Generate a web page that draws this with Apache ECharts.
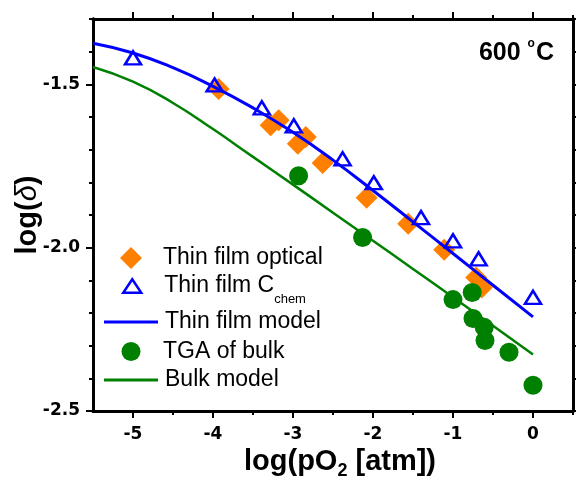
<!DOCTYPE html>
<html>
<head>
<meta charset="utf-8">
<script src="https://cdn.jsdelivr.net/npm/echarts@6/dist/echarts.min.js"></script>
<style>
  html, body { margin: 0; padding: 0; background: #fff; }
  #chart { width: 576px; height: 482px; }
</style>
</head>
<body>
<div id="chart"></div>
<script>
// tick positions
var xMajor = [-5, -4, -3, -2, -1, 0]
var xMinor = [-4.5, -3.5, -2.5, -1.5, -0.5, 0.5]
var yMajor = [-2.5, -2.0, -1.5]
var yMinor = [-2.4, -2.3, -2.2, -2.1, -1.9, -1.8, -1.7, -1.6, -1.4, -1.3]

// thin film optical (diamonds)
var opticalX = [-3.93, -3.28, -3.18, -2.94, -2.84, -2.63, -2.08, -1.56, -1.11, -0.71, -0.64]
var opticalY = [-1.514, -1.625, -1.610, -1.682, -1.661, -1.741, -1.847, -1.927, -2.006, -2.091, -2.122]

// thin film C_chem (triangles)
var chemX = [-5.0, -3.98, -3.39, -2.99, -2.38, -1.99, -1.40, -1.00, -0.68, 0.0]
var chemY = [-1.419, -1.502, -1.572, -1.627, -1.728, -1.801, -1.908, -1.979, -2.034, -2.152]

// TGA of bulk (circles)
var tgaX = [-2.93, -2.13, -1.00, -0.76, -0.75, -0.61, -0.60, -0.30, 0.0]
var tgaY = [-1.780, -1.969, -2.159, -2.137, -2.217, -2.244, -2.284, -2.320, -2.421]

// model curves
var modelX = [-5.5, -5, -4.5, -4, -3.5, -3, -2.5, -2, -1.5, -1, -0.5, 0]
var thinModelY = [-1.374, -1.404, -1.449, -1.506, -1.572, -1.647, -1.732, -1.825, -1.921, -2.018, -2.115, -2.212]
var bulkModelY = [-1.447, -1.492, -1.557, -1.637, -1.722, -1.807, -1.893, -1.979, -2.065, -2.152, -2.239, -2.327]

function pairs (xs, ys) {
  var out = []
  for (var i = 0; i < xs.length; i++) {
    out.push([xs[i], ys[i]])
  }
  return out
}

var labelFont = 'DejaVu Sans'
var textFont = 'Liberation Sans'

function makeAxis (pos, ticks, len, withLabel, extra) {
  var horiz = pos === 'bottom' || pos === 'top'
  var ax = {
    type: 'value',
    position: pos,
    min: horiz ? -5.5 : -2.5,
    max: horiz ? 0.5 : -1.3,
    splitLine: { show: false },
    axisLine: { show: true, onZero: false, lineStyle: { color: '#000', width: 2.8 } },
    axisTick: { show: true, length: len, customValues: ticks, lineStyle: { color: '#000', width: 2 } },
    axisLabel: {
      show: withLabel,
      customValues: ticks,
      color: '#000',
      fontFamily: labelFont,
      fontWeight: 'bold',
      fontSize: 17,
      margin: horiz ? 15 : 13,
      formatter: function (v) {
        return horiz ? String(Math.round(v)) : Number(v).toFixed(1)
      }
    }
  }
  if (extra) {
    for (var k in extra) ax[k] = extra[k]
  }
  return ax
}

var chart = echarts.init(document.getElementById('chart'))

// one legend per entry so each row sits where the original has it
function legendAt (name, left, top, w, h, padLeft, more) {
  var lg = {
    data: [name],
    left: left,
    top: top,
    padding: 0,
    itemWidth: w,
    itemHeight: h,
    selectedMode: false,
    textStyle: { fontFamily: textFont, fontSize: 23, color: '#000', padding: [0, 0, 0, padLeft] }
  }
  if (more) {
    for (var k in more) lg[k] = more[k]
  }
  return lg
}

chart.setOption({
  animation: false,
  backgroundColor: '#fff',
  grid: { left: 93, top: 19, right: 3, bottom: 71, outerBoundsMode: 'none', containLabel: false },
  xAxis: [
    makeAxis('bottom', xMajor, 7, true, {
      name: '{b|log(pO}{s|2}{b| [atm])}',
      nameLocation: 'middle',
      nameGap: 36,
      nameMoveOverlap: false,
      nameTextStyle: {
        padding: [0, 0, 0, 14],
        rich: {
          b: { fontFamily: textFont, fontWeight: 'bold', fontSize: 29, color: '#000' },
          s: { fontFamily: textFont, fontWeight: 'bold', fontSize: 18, lineHeight: 18, padding: [20, 0, 0, 0], color: '#000' }
        }
      }
    }),
    makeAxis('bottom', xMinor, 4, false),
    makeAxis('top', xMajor, 7, false),
    makeAxis('top', xMinor, 4, false)
  ],
  yAxis: [
    makeAxis('left', yMajor, 7, true, {
      name: '{b|log(}{i|δ}{b|)}',
      nameLocation: 'middle',
      nameRotate: 90,
      nameGap: 51,
      nameMoveOverlap: false,
      nameTextStyle: {
        rich: {
          b: { fontFamily: textFont, fontWeight: 'bold', fontSize: 29, color: '#000' },
          i: { fontFamily: textFont, fontStyle: 'italic', fontSize: 29, color: '#000' }
        }
      }
    }),
    makeAxis('left', yMinor, 4, false),
    makeAxis('right', yMajor, 7, false),
    makeAxis('right', yMinor, 4, false)
  ],
  legend: [
    legendAt('Thin film optical', 120, 246.5, 22, 22, 16, {
      icon: 'path://M11,0L22,11L11,22L0,11Z'
    }),
    legendAt('Thin film Cchem', 122, 266.5, 18, 14, 18, {
      icon: 'path://M8,0L16,12L0,12Z',
      itemStyle: { color: 'rgba(0,0,0,0)', borderColor: '#0000ff', borderWidth: 2.5 },
      formatter: function () {
        return '{m|Thin film C}{s|chem}'
      },
      textStyle: {
        fontFamily: textFont,
        fontSize: 23,
        color: '#000',
        padding: [0, 0, 0, 18],
        rich: {
          m: { fontFamily: textFont, fontSize: 23, color: '#000' },
          s: { fontFamily: textFont, fontSize: 13, lineHeight: 13, padding: [26, 0, 0, 0], color: '#000' }
        }
      }
    }),
    legendAt('Thin film model', 104, 310.5, 54, 3, 2, { icon: 'rect' }),
    legendAt('TGA of bulk', 121.5, 340, 19, 19, 17.5, { icon: 'circle' }),
    legendAt('Bulk model', 104, 368.5, 54, 3, 2, { icon: 'rect' })
  ],
  graphic: [{
    type: 'text',
    right: 22,
    top: 38,
    style: {
      text: '{a|600 }{o|o}{a|C}',
      rich: {
        a: { fontFamily: textFont, fontWeight: 'bold', fontSize: 25, fill: '#000' },
        o: { fontFamily: textFont, fontWeight: 'bold', fontSize: 12, lineHeight: 12, padding: [0, 1, 18, 0], fill: '#000' }
      }
    }
  }],
  series: [{
    name: 'Thin film optical',
    type: 'scatter',
    symbol: 'diamond',
    symbolSize: 22,
    itemStyle: { color: '#ff8000', opacity: 1 },
    data: pairs(opticalX, opticalY)
  }, {
    name: 'Thin film Cchem',
    type: 'scatter',
    symbol: 'triangle',
    symbolSize: [16, 13],
    itemStyle: { color: 'rgba(0,0,0,0)', borderColor: '#0000ff', borderWidth: 2.5, opacity: 1 },
    data: pairs(chemX, chemY)
  }, {
    name: 'Thin film model',
    type: 'line',
    symbol: 'none',
    smooth: true,
    lineStyle: { color: '#0000ff', width: 3 },
    itemStyle: { color: '#0000ff' },
    data: pairs(modelX, thinModelY)
  }, {
    name: 'TGA of bulk',
    type: 'scatter',
    symbol: 'circle',
    symbolSize: 19,
    itemStyle: { color: '#008000', opacity: 1 },
    data: pairs(tgaX, tgaY)
  }, {
    name: 'Bulk model',
    type: 'line',
    symbol: 'none',
    smooth: true,
    lineStyle: { color: '#008000', width: 2.5 },
    itemStyle: { color: '#008000' },
    data: pairs(modelX, bulkModelY)
  }]
})
</script>
</body>
</html>
